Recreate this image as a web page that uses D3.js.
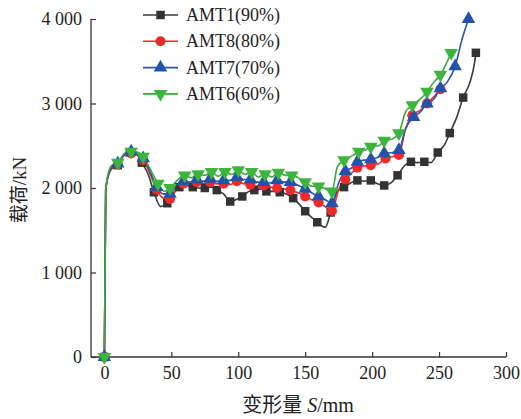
<!DOCTYPE html>
<html>
<head>
<meta charset="utf-8">
<script src="https://cdn.jsdelivr.net/npm/d3@7"></script>
<style>
  body { margin: 0; background: #fff; }
  svg text { font-family: "Liberation Serif", "Noto Sans CJK SC", serif; fill: #222; }
</style>
</head>
<body>
<svg id="chart" width="521" height="419"></svg>
<script>
'use strict';

// [deformation mm, load kN, 1 = marker point]
var amt1 = [[0,0,1],[1,1990],[5,2220],[10,2270,1],[14.5,2390],[19,2420,1],[24,2400],[28,2300,1],[33,2150],
    [37,1950,1],[42,1780],[47,1820,1],[51,1920],[56,2010,1],[61,2030],[66,2010,1],[70,2000],[75,2000,1],
    [80,2010],[84,1975,1],[89,1930],[94,1840,1],[98,1860],[103,1900,1],[108,1960],[112,1975,1],[117,1990],
    [121,1960,1],[126,1960],[131,1950,1],[136,1930],[141,1880,1],[146,1800],[150,1725,1],[155,1650],
    [159,1595,1],[165,1535],[169,1710,1],[174,1960],[179,2010,1],[184,2060],[189,2090,1],[194,2080],
    [199,2090,1],[204,2050],[209,2030,1],[214,2060],[219,2150,1],[224,2260],[229,2310,1],[234,2300],
    [239,2310,1],[244,2300],[249,2420,1],[254,2510],[258,2650,1],[263,2830],[268,3070,1],[273,3250],
    [276.5,3480],[277.5,3600,1]];

var amt8 = [[0,0,1],[1,1990],[5,2230],[10,2280,1],[15,2390],[20,2410,1],[25,2400],[29,2330,1],[34,2170],
    [39,1980,1],[44,1880],[49,1870,1],[54,1990],[59,2050,1],[64,2050],[69,2070,1],[74,2050],[79,2070,1],
    [84,2050],[89,2050,1],[94,2040],[99,2080,1],[104,2050],[109,2040,1],[114,2020],[119,2030,1],[124,2010],
    [129,2000,1],[134,1990],[139,1975,1],[145,1940],[150,1900,1],[155,1860],[160,1830,1],[165,1780],
    [170,1730,1],[175,1980],[180,2100,1],[185,2180],[189,2240,1],[194,2260],[199,2270,1],[205,2290],
    [210,2350,1],[215,2370],[220,2390,1],[225,2700],[230,2860,1],[236,2920],[241,3000,1],[246,3080],
    [251,3170,1]];

var amt7 = [[0,0,1],[1,1990],[5,2240],[10,2290,1],[15,2400],[20,2430,1],[25,2420],[29,2350,1],[34,2200],
    [39,2010,1],[44,1930],[49,1930,1],[54,2030],[59,2080,1],[64,2070],[69,2100,1],[74,2080],[79,2110,1],
    [84,2080],[89,2090,1],[94,2090],[99,2130,1],[104,2100],[109,2100,1],[114,2070],[119,2070,1],[124,2060],
    [129,2090,1],[134,2070],[139,2070,1],[145,2030],[150,1990,1],[155,1940],[160,1900,1],[165,1860],
    [170,1820,1],[175,2060],[180,2200,1],[185,2240],[189,2310,1],[194,2330],[199,2340,1],[204,2360],
    [209,2410,1],[215,2420],[220,2450,1],[225,2700],[231,2840,1],[236,2900],[241,3000,1],[246,3050],
    [251,3180,1],[256,3250],[262,3440,1],[267,3750],[272,4000,1]];

var amt6 = [[0,0,1],[1,1990],[5,2260],[10,2300,1],[15,2410],[20,2430,1],[25,2420],[29,2370,1],[35,2200],
    [40,2050,1],[45,1960],[49,2000,1],[55,2100],[60,2150,1],[65,2120],[70,2165,1],[75,2150],[80,2190,1],
    [85,2140],[90,2190,1],[95,2160],[100,2210,1],[105,2160],[110,2190,1],[115,2130],[120,2165,1],[125,2130],
    [130,2180,1],[135,2150],[140,2150,1],[145,2120],[150,2070,1],[155,2020],[160,2020,1],[165,1990],
    [170,1960,1],[174,2250],[179,2330,1],[185,2380],[190,2430,1],[195,2450],[199,2490,1],[205,2500],
    [209,2560,1],[215,2580],[220,2650,1],[225,2900],[230,2980,1],[235,3040],[241,3140,1],[246,3250],
    [251,3340,1],[255,3460],[259,3600,1]];

var seriesNames = ['AMT1(90%)', 'AMT8(80%)', 'AMT7(70%)', 'AMT6(60%)'];
var xTicks = [0, 50, 100, 150, 200, 250, 300];
var yTicks = [0, 1000, 2000, 3000, 4000];

(function() {
var series = [
    { name: seriesNames[0], data: amt1, line: '#3a3a3a', fill: '#333', shape: d3.symbolSquare, size: 72 },
    { name: seriesNames[1], data: amt8, line: '#ee2b2b', fill: '#f02a2a', shape: d3.symbolCircle, size: 80 },
    { name: seriesNames[2], data: amt7, line: '#2a55a8', fill: '#2452aa', shape: d3.symbolTriangle, size: 80 },
    { name: seriesNames[3], data: amt6, line: '#3aa83e', fill: '#3db43d', shape: d3.symbolTriangle, size: 80, down: true }
];

var svg = d3.select('#chart'),
    mLeft = 91, mRight = 506, mTop = 19, mBottom = 357;

var x = d3.scaleLinear().domain([-10, 300]).range([mLeft, mRight]);
var y = d3.scaleLinear().domain([0, 4000]).range([mBottom, mTop]);

var fmt = function(d) { return d3.format(',')(d).replace(',', ' '); };

var xAxis = svg.append('g').attr('transform', 'translate(0,' + mBottom + ')')
    .call(d3.axisBottom(x).tickValues(xTicks).tickSizeInner(-5).tickSizeOuter(0).tickPadding(9));
var yAxis = svg.append('g').attr('transform', 'translate(' + mLeft + ',0)')
    .call(d3.axisLeft(y).tickValues(yTicks).tickSizeInner(-5).tickSizeOuter(0).tickPadding(9).tickFormat(fmt));

[xAxis, yAxis].forEach(function(a) {
    a.select('.domain').attr('stroke', '#333').attr('stroke-width', 1.3);
    a.selectAll('.tick line').attr('stroke', '#333').attr('stroke-width', 1.2);
    a.selectAll('.tick text').attr('font-size', 18).attr('fill', '#222')
        .style('font-family', '"Liberation Serif", serif');
});
// x axis runs from the y axis to 300
xAxis.select('.domain').attr('d', 'M' + mLeft + ',0H' + mRight);
yAxis.select('.domain').attr('d', 'M0,' + mBottom + 'V' + mTop);

var line = d3.line()
    .x(function(d) { return x(d[0]); })
    .y(function(d) { return y(d[1]); })
    .curve(d3.curveMonotoneX);

var plot = svg.append('g');

series.forEach(function(s) {
    plot.append('path')
        .attr('d', line(s.data))
        .attr('fill', 'none')
        .attr('stroke', s.line)
        .attr('stroke-width', 1.6);
});

series.forEach(function(s) {
    var sym = d3.symbol().type(s.shape).size(s.size);
    plot.selectAll(null)
        .data(s.data.filter(function(d) { return d[2]; }))
        .enter()
        .append('path')
        .attr('d', sym)
        .attr('transform', function(d) {
            return 'translate(' + x(d[0]) + ',' + y(d[1]) + ')' + (s.down ? ' rotate(180)' : '');
        })
        .attr('fill', s.fill);
});

// legend
var legend = svg.append('g').attr('transform', 'translate(143,15)');
series.forEach(function(s, i) {
    var g = legend.append('g').attr('transform', 'translate(0,' + (i * 26.3) + ')');
    g.append('line').attr('x1', 0).attr('x2', 35).attr('y1', 0).attr('y2', 0)
        .attr('stroke', s.line).attr('stroke-width', 1.6);
    g.append('path').attr('d', d3.symbol().type(s.shape).size(s.size)())
        .attr('transform', 'translate(17.5,0)' + (s.down ? ' rotate(180)' : ''))
        .attr('fill', s.fill);
    g.append('text').attr('x', 43).attr('y', 6).attr('font-size', 18).text(s.name);
});

// axis titles
var xt = svg.append('text').attr('x', 298).attr('y', 412).attr('text-anchor', 'middle').attr('font-size', 20);
xt.append('tspan').text('变形量 ');
xt.append('tspan').attr('font-style', 'italic').text('S');
xt.append('tspan').text('/mm');

svg.append('text')
    .attr('transform', 'translate(26,190) rotate(-90)')
    .attr('text-anchor', 'middle')
    .attr('font-size', 19)
    .text('载荷/kN');
})();
</script>
</body>
</html>
